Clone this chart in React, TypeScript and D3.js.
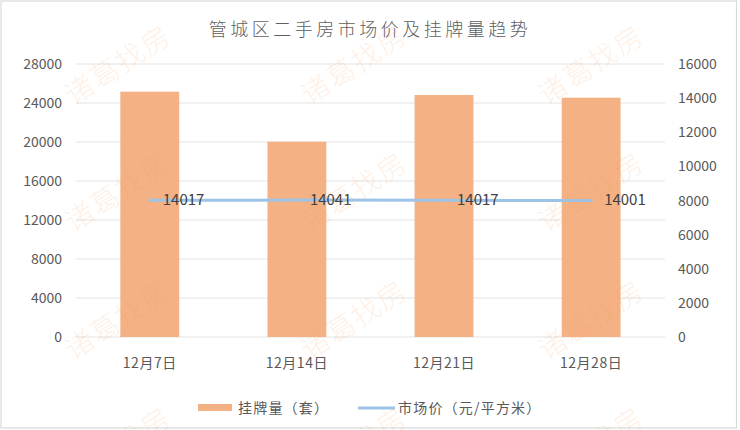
import React from "react";
import * as d3 from "d3";

const categories = ["12月7日", "12月14日", "12月21日", "12月28日"];
const listings = [14377, 11446, 14183, 14025]; // 挂牌量（套） right axis
const prices = [14017, 14041, 14017, 14001]; // 市场价（元/平方米） left axis
const leftTicks = [0, 4000, 8000, 12000, 16000, 20000, 24000, 28000];
const rightTicks = [0, 2000, 4000, 6000, 8000, 10000, 12000, 14000, 16000];
const title = "管城区二手房市场价及挂牌量趋势";
const legendLabels = ["挂牌量（套）", "市场价（元/平方米）"];
const watermark = "诸葛找房";

const W = 740;
const H = 430;
const FONT = "'Noto Sans CJK SC', 'Noto Sans', sans-serif";

export default function App() {
  const x = d3.scaleBand<string>().domain(categories).range([76.2, 664.7]).paddingInner(0.6).paddingOuter(0.3);
  const yL = d3.scaleLinear().domain([0, 28000]).range([337, 64]);
  const yR = d3.scaleLinear().domain([0, 16000]).range([337, 64]);
  const cx = (c: string) => (x(c) as number) + x.bandwidth() / 2;
  const line = d3
    .line<number>()
    .x((_, i) => cx(categories[i]))
    .y((d) => yL(d));

  const wmX = [117, 353, 590];
  const wmY = [63, 190, 318, 445];

  return (
    <svg width={W} height={H} style={{ position: "absolute", left: 0, top: 0 }} fontFamily={FONT}>
      <rect x={0} y={0} width={W} height={H} fill="#fff" />
      <rect x={1} y={1} width={735.5} height={427} fill="none" stroke="#d9d9d9" strokeWidth={1.2} />
      <text x={370} y={36} textAnchor="middle" fontSize={18} fontWeight={300} fill="#5f5f5f" letterSpacing={3.5}>
        {title}
      </text>
      {leftTicks.map((t) => (
        <line key={"g" + t} x1={76} x2={665} y1={yL(t)} y2={yL(t)} stroke="#e3e3e3" strokeWidth={1.2} />
      ))}
      {leftTicks.map((t) => (
        <text key={"l" + t} x={62} y={yL(t) + 5} textAnchor="end" fontSize={14} fill="#595959">
          {t}
        </text>
      ))}
      {rightTicks.map((t) => (
        <text key={"r" + t} x={678} y={yR(t) + 5} textAnchor="start" fontSize={14} fill="#595959">
          {t}
        </text>
      ))}
      {categories.map((c, i) => (
        <rect key={"b" + c} x={x(c)} y={yR(listings[i])} width={x.bandwidth()} height={yR(0) - yR(listings[i])} fill="#F4B183" />
      ))}
      <path d={line(prices) || ""} fill="none" stroke="#9DC3E6" strokeWidth={3} strokeLinecap="round" />
      {categories.map((c, i) => (
        <text key={"v" + c} x={cx(c) + 13} y={yL(prices[i]) + 5} fontSize={15} fill="#404040">
          {prices[i]}
        </text>
      ))}
      {categories.map((c) => (
        <text key={"x" + c} x={cx(c)} y={368} textAnchor="middle" fontSize={14} fill="#595959" letterSpacing={0.5}>
          {c}
        </text>
      ))}
      <rect x={198} y={404} width={34} height={7} fill="#F4B183" />
      <text x={238} y={413} fontSize={14} fill="#595959" letterSpacing={1.2}>
        {legendLabels[0]}
      </text>
      <line x1={358} x2={395} y1={408} y2={408} stroke="#9DC3E6" strokeWidth={3} />
      <text x={398} y={413} fontSize={14} fill="#595959" letterSpacing={1.2}>
        {legendLabels[1]}
      </text>
      <g opacity={0.16} fill="#F7A060" fontSize={28} fontWeight={300}>
        {wmX.map((wx) =>
          wmY.map((wy) => (
            <text key={wx + "-" + wy} x={0} y={0} textAnchor="middle" dominantBaseline="central" transform={`translate(${wx},${wy}) rotate(-33)`} letterSpacing={2}>
              {watermark}
            </text>
          ))
        )}
      </g>
    </svg>
  );
}
